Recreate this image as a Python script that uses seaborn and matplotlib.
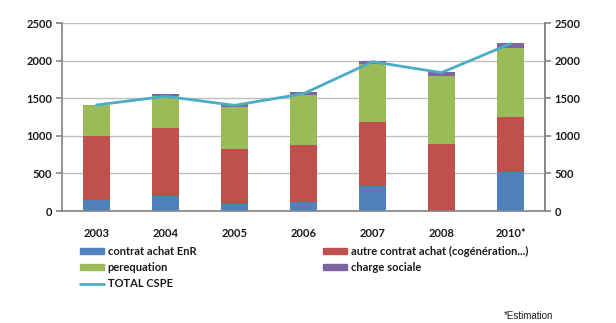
import numpy as np
import pandas as pd
import matplotlib
matplotlib.use("Agg")
import matplotlib.pyplot as plt
import seaborn as sns
from matplotlib.patches import Patch
from matplotlib.lines import Line2D

years = ["2003", "2004", "2005", "2006", "2007", "2008", "2010*"]
enr = [142, 200, 93, 116, 329, 0, 520]
autre = [860, 903, 725, 765, 854, 890, 726]
perequation = [413, 423, 570, 667, 774, 907, 920]
charge_sociale = [0, 26, 31, 40, 40, 45, 67]
total_cspe = [1410, 1525, 1405, 1560, 1985, 1840, 2225]

labels = ["contrat achat EnR", "autre contrat achat (cogénération...)",
          "perequation", "charge sociale", "TOTAL CSPE"]
colors = ["#4F81BD", "#C0504D", "#9BBB59", "#8064A2"]
line_color = "#4BACC6"
text_color = "#1a1a1a"

sns.set_theme(style="white")
plt.rcParams["font.family"] = ["Lato", "DejaVu Sans"]
plt.rcParams["font.weight"] = "bold"

fig = plt.figure(figsize=(6.16, 3.23), dpi=100)
ax = fig.add_axes([62 / 616, 1 - 211 / 323, (545 - 62) / 616, (211 - 23) / 323])

segments = [enr, autre, perequation, charge_sociale]
cum = np.cumsum(np.array(segments), axis=0)
df = pd.DataFrame({"year": years})
# stacked bars: draw the running totals from the top layer down
for i in range(3, -1, -1):
    df["v"] = cum[i]
    sns.barplot(data=df, x="year", y="v", color=colors[i], width=0.38,
                saturation=1, ax=ax, zorder=2, edgecolor="none")

sns.lineplot(x=np.arange(len(years)), y=total_cspe, ax=ax, color=line_color,
             lw=2, zorder=4)

ax.set_xlim(-0.5, len(years) - 0.5)
ax.set_ylim(0, 2500)
yt = [0, 500, 1000, 1500, 2000, 2500]
ax.set_yticks(yt)
ax.set_yticklabels([str(v) for v in yt], fontsize=8, color=text_color)
ax.yaxis.grid(True, color="#BEBEBE", lw=1)
ax.set_axisbelow(True)
ax.set_xlabel("")
ax.set_ylabel("")
ax.set_xticks(np.arange(len(years)))
ax.set_xticklabels(years, fontsize=8, color=text_color)
ax.tick_params(axis="x", length=0, pad=12)
ax.set_xticks(np.arange(-0.5, len(years)), minor=True)
ax.tick_params(axis="x", which="minor", length=4, color="#868686", direction="out")
ax.tick_params(axis="y", length=4, color="#868686", direction="out", left=True, pad=3)
for side in ["left", "bottom", "right"]:
    ax.spines[side].set_visible(True)
    ax.spines[side].set_color("#868686")
ax.spines["top"].set_visible(False)

ax2 = ax.twinx()
ax2.set_ylim(0, 2500)
ax2.set_yticks(yt)
ax2.set_yticklabels([str(v) for v in yt], fontsize=8, color=text_color)
ax2.tick_params(axis="y", length=4, color="#868686", direction="out", right=True, pad=3)
for side in ["left", "bottom", "top"]:
    ax2.spines[side].set_visible(False)
ax2.spines["right"].set_color("#868686")
ax2.grid(False)

h_enr = Patch(color=colors[0])
h_autre = Patch(color=colors[1])
h_per = Patch(color=colors[2])
h_cs = Patch(color=colors[3])
h_tot = Line2D([], [], color=line_color, lw=2)

leg_kw = dict(frameon=False, fontsize=8, handlelength=2.2, handleheight=0.45,
              handletextpad=0.3, labelspacing=0.45, borderaxespad=0, borderpad=0,
              labelcolor=text_color)
fig.legend([h_enr, h_per, h_tot], [labels[0], labels[2], labels[4]],
           loc="upper left", bbox_to_anchor=(80 / 616, 1 - 246 / 323), **leg_kw)
fig.legend([h_autre, h_cs], [labels[1], labels[3]],
           loc="upper left", bbox_to_anchor=(323 / 616, 1 - 246 / 323), **leg_kw)

fig.text(553 / 616, 1 - 316 / 323, "*Estimation", fontsize=7, ha="right",
         va="center", family=["Liberation Sans", "DejaVu Sans"],
         fontweight="normal", color=text_color)

fig.savefig("out.png", dpi=100)
